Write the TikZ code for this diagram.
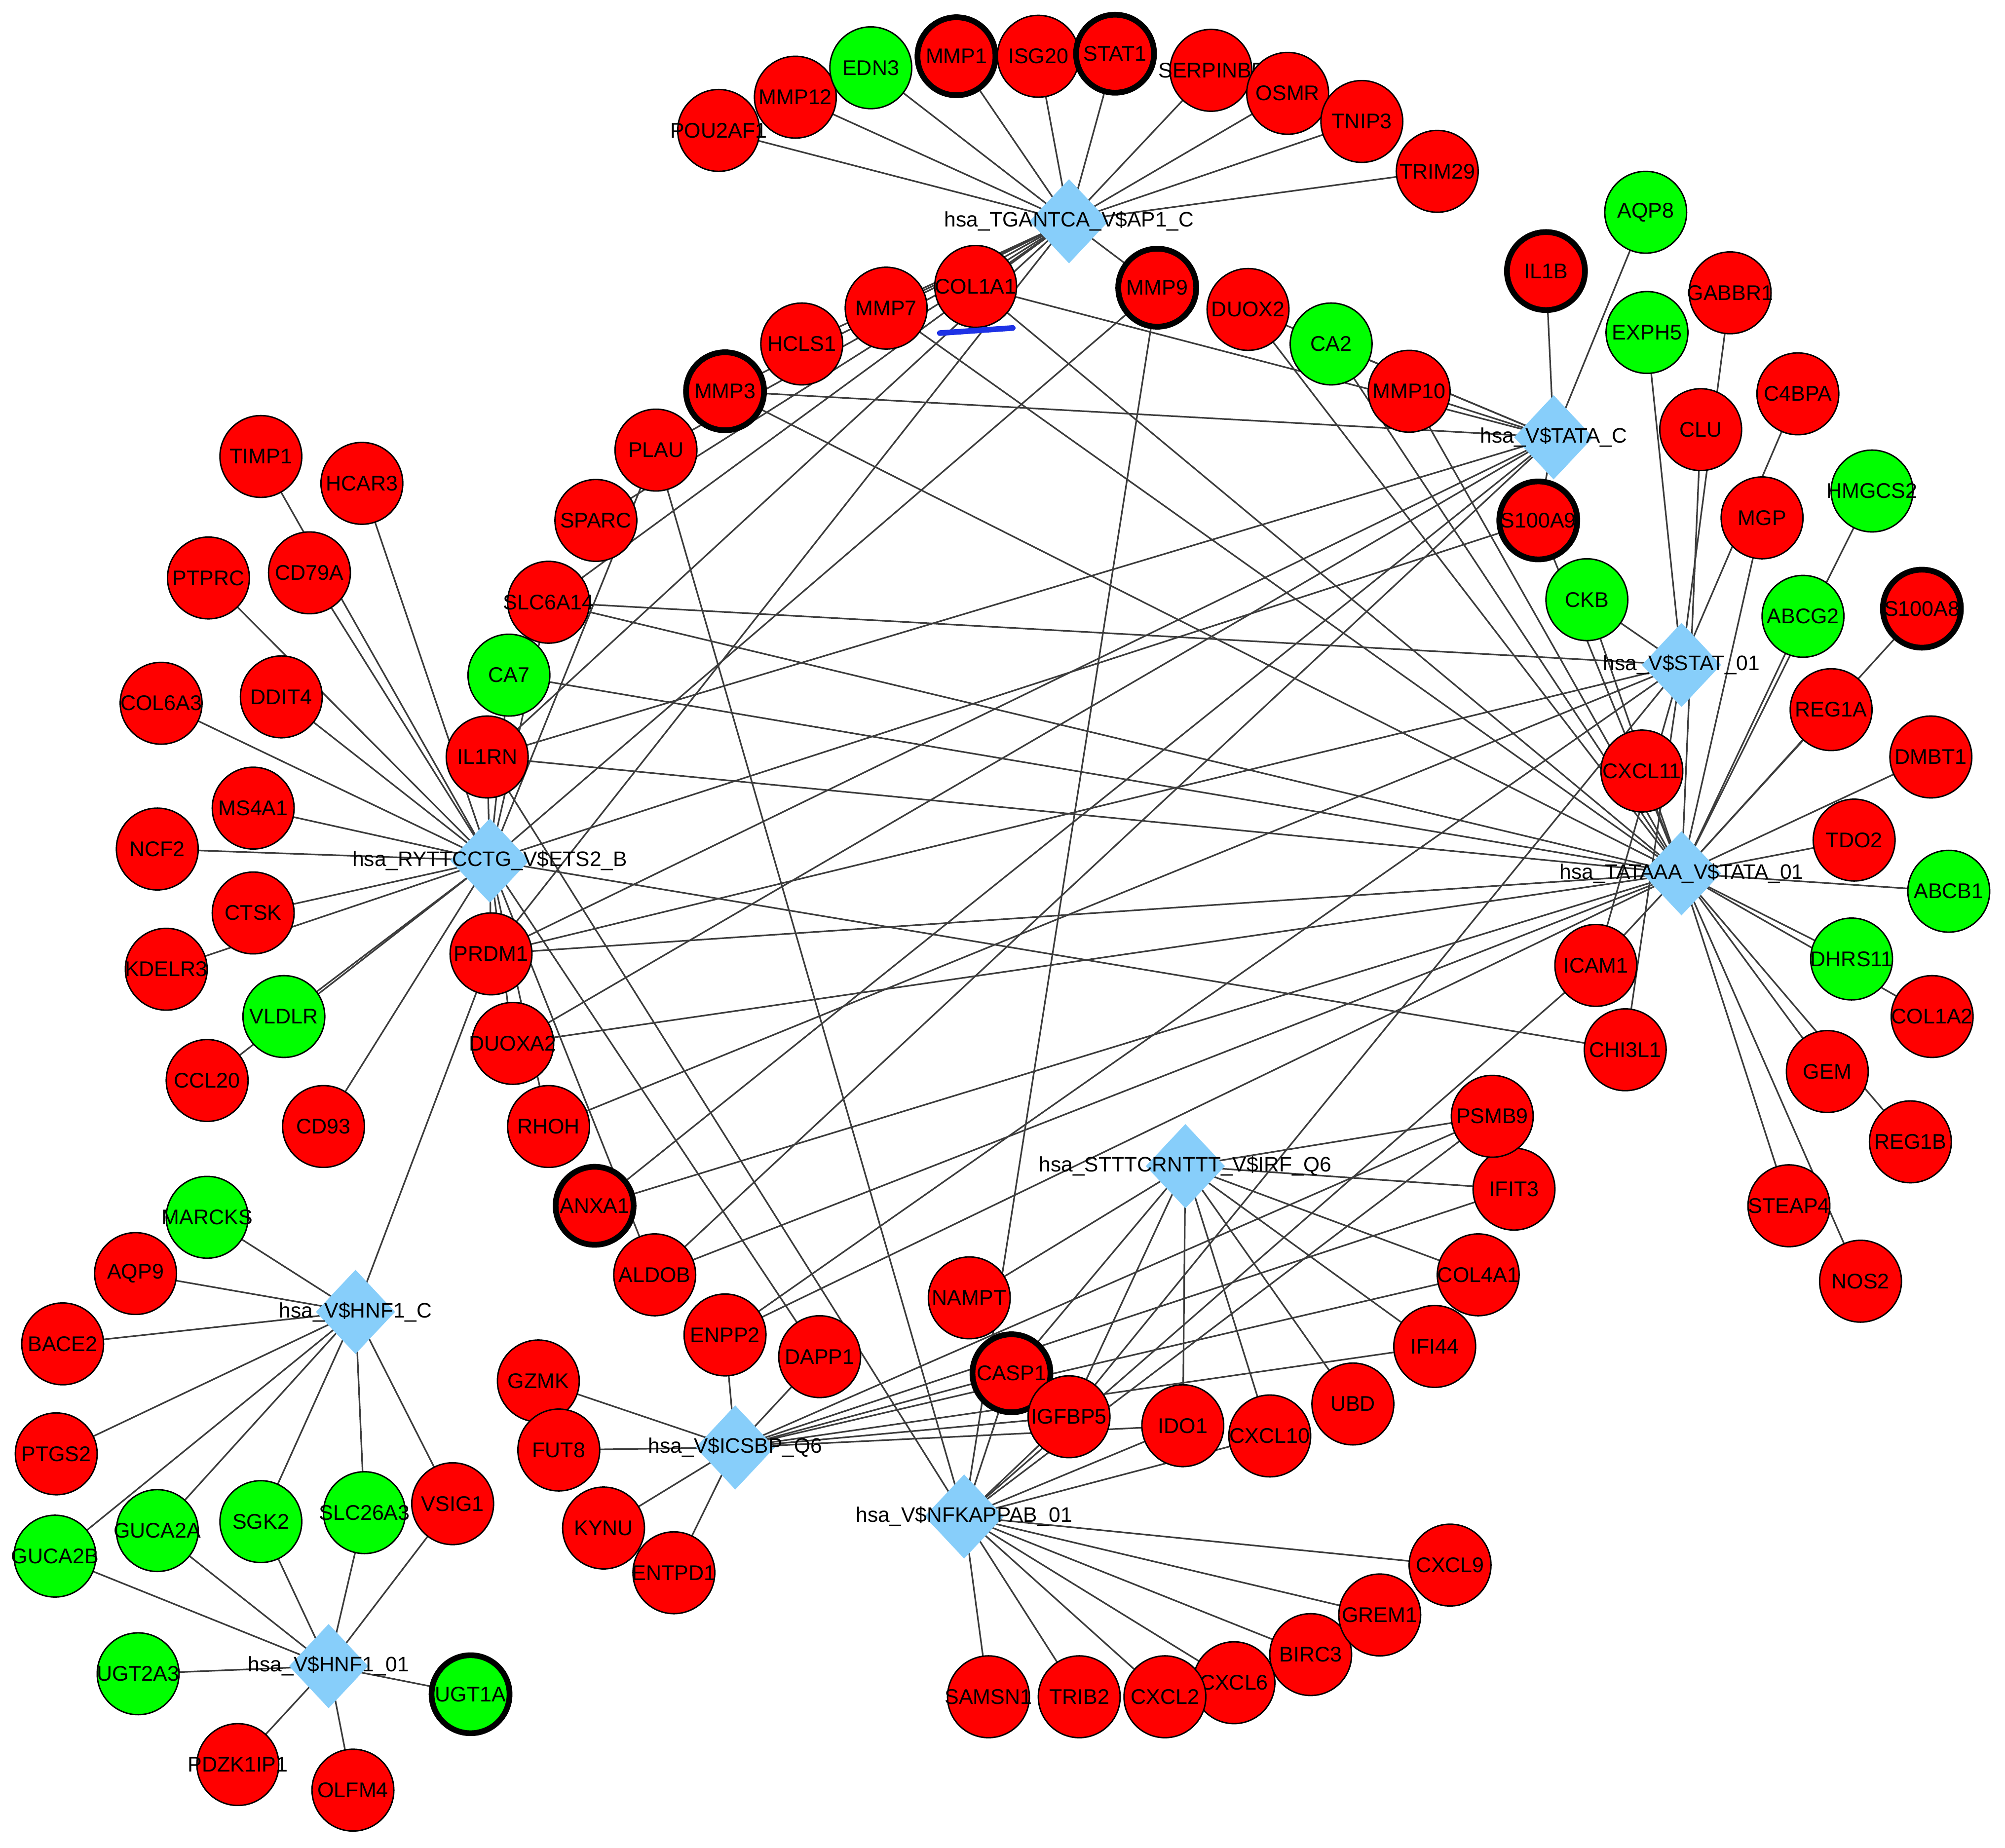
\documentclass[tikz,border=0pt]{standalone}
\usepackage{fontspec}
\setmainfont{Liberation Sans}
\usetikzlibrary{shapes.geometric}
\pgfdeclarelayer{bg}
\pgfsetlayers{bg,main}
\definecolor{gred}{RGB}{255,0,0}
\definecolor{ggreen}{RGB}{0,255,0}
\definecolor{hubblue}{RGB}{135,206,250}
\definecolor{edgegray}{RGB}{60,60,60}
\definecolor{markblue}{RGB}{30,50,230}
\begin{document}
\begin{tikzpicture}[x=1pt,y=-1pt,
 gene/.style={circle,draw=black,line width=1.1pt,minimum size=64pt,inner sep=0pt,font=\fontsize{16.6}{18}\selectfont,
   execute at begin node={\hbox to 0pt\bgroup\hss},execute at end node={\hss\egroup}},
 up/.style={gene,fill=gred},
 dn/.style={gene,fill=ggreen},
 hl/.style={line width=4.5pt,minimum size=61pt},
 hub/.style={diamond,fill=hubblue,minimum width=62pt,minimum height=66pt,inner sep=0pt},
 hublabel/.style={font=\fontsize{16.4}{18}\selectfont,inner sep=0pt},
 edge/.style={draw=edgegray,line width=1.25pt},
 marker/.style={draw=markblue,line width=4.4pt,line cap=round}
]
\useasboundingbox (0,0) rectangle (1568,1445);

% hubs
\node[hub] (ap1) at (836,173) {};
\node[hub] (tatac) at (1215,342) {};
\node[hub] (stat) at (1315,520) {};
\node[hub] (tata01) at (1315,683) {};
\node[hub] (ets2) at (383,673) {};
\node[hub] (irf) at (927,912) {};
\node[hub] (hnfc) at (278,1026) {};
\node[hub] (icsbp) at (575,1132) {};
\node[hub] (nfkb) at (754,1186) {};
\node[hub] (hnf01) at (257,1303) {};

% top arc
\node[up] (pou2af1) at (562,102) {POU2AF1};
\node[up] (mmp12) at (622,76) {MMP12};
\node[dn] (edn3) at (681,53) {EDN3};
\node[up,hl] (mmp1) at (748,44) {MMP1};
\node[up] (isg20) at (812,44) {ISG20};
\node[up,hl] (stat1) at (872,42) {STAT1};
\node[up] (serpinb5) at (947,55) {SERPINB5};
\node[up] (osmr) at (1007,73) {OSMR};
\node[up] (tnip3) at (1065,95) {TNIP3};
\node[up] (trim29) at (1124,134) {TRIM29};

% inner ring
\node[up] (plau) at (513,352) {PLAU};
\node[up,hl] (mmp3) at (567,306) {MMP3};
\node[up] (hcls1) at (627,269) {HCLS1};
\node[up] (mmp7) at (693,241) {MMP7};
\node[up] (col1a1) at (763,224) {COL1A1};
\node[up,hl] (mmp9) at (905,225) {MMP9};
\node[up] (duox2) at (976,242) {DUOX2};
\node[dn] (ca2) at (1041,269) {CA2};
\node[up] (mmp10) at (1102,306) {MMP10};
\node[up] (sparc) at (466,407) {SPARC};
\node[up] (slc6a14) at (429,471) {SLC6A14};
\node[dn] (ca7) at (398,528) {CA7};
\node[up] (il1rn) at (381,592) {IL1RN};
\node[up] (prdm1) at (384,746) {PRDM1};
\node[up] (duoxa2) at (401,816) {DUOXA2};
\node[up] (rhoh) at (429,881) {RHOH};
\node[up,hl] (anxa1) at (465,943) {ANXA1};
\node[up] (aldob) at (512,997) {ALDOB};
\node[up] (enpp2) at (567,1044) {ENPP2};
\node[up] (dapp1) at (641,1061) {DAPP1};
\node[up] (nampt) at (758,1015) {NAMPT};
\node[up,hl] (casp1) at (791,1074) {CASP1};
\node[up] (igfbp5) at (836,1108) {IGFBP5};
\node[up] (ido1) at (925,1115) {IDO1};
\node[up] (cxcl10) at (993,1123) {CXCL10};
\node[up] (ubd) at (1058,1098) {UBD};
\node[up] (ifi44) at (1122,1053) {IFI44};
\node[up] (col4a1) at (1156,997) {COL4A1};
\node[up] (ifit3) at (1184,930) {IFIT3};
\node[up] (psmb9) at (1167,873) {PSMB9};
\node[up] (chi3l1) at (1271,821) {CHI3L1};
\node[up] (icam1) at (1248,755) {ICAM1};
\node[up] (cxcl11) at (1284,603) {CXCL11};
\node[up,hl] (s100a9) at (1203,407) {S100A9};
\node[dn] (ckb) at (1241,469) {CKB};

% right
\node[up,hl] (il1b) at (1209,212) {IL1B};
\node[dn] (aqp8) at (1287,166) {AQP8};
\node[up] (gabbr1) at (1353,229) {GABBR1};
\node[dn] (exph5) at (1288,260) {EXPH5};
\node[up] (clu) at (1330,336) {CLU};
\node[up] (c4bpa) at (1406,308) {C4BPA};
\node[dn] (hmgcs2) at (1464,384) {HMGCS2};
\node[up] (mgp) at (1378,405) {MGP};
\node[dn] (abcg2) at (1410,482) {ABCG2};
\node[up,hl] (s100a8) at (1503,476) {S100A8};
\node[up] (reg1a) at (1432,555) {REG1A};
\node[up] (dmbt1) at (1510,592) {DMBT1};
\node[up] (tdo2) at (1450,657) {TDO2};
\node[dn] (abcb1) at (1524,697) {ABCB1};
\node[dn] (dhrs11) at (1448,750) {DHRS11};
\node[up] (col1a2) at (1511,795) {COL1A2};
\node[up] (gem) at (1429,838) {GEM};
\node[up] (reg1b) at (1494,893) {REG1B};
\node[up] (steap4) at (1399,943) {STEAP4};
\node[up] (nos2) at (1455,1002) {NOS2};

% left
\node[up] (timp1) at (204,357) {TIMP1};
\node[up] (hcar3) at (283,378) {HCAR3};
\node[up] (ptprc) at (163,452) {PTPRC};
\node[up] (cd79a) at (242,448) {CD79A};
\node[up] (col6a3) at (126,550) {COL6A3};
\node[up] (ddit4) at (220,545) {DDIT4};
\node[up] (ms4a1) at (198,632) {MS4A1};
\node[up] (ncf2) at (123,664) {NCF2};
\node[up] (kdelr3) at (130,758) {KDELR3};
\node[up] (ctsk) at (198,714) {CTSK};
\node[up] (ccl20) at (162,845) {CCL20};
\node[dn] (vldlr) at (222,795) {VLDLR};
\node[up] (cd93) at (253,881) {CD93};

% bottom left
\node[dn] (marcks) at (162,952) {MARCKS};
\node[up] (aqp9) at (106,996) {AQP9};
\node[up] (bace2) at (49,1051) {BACE2};
\node[up] (ptgs2) at (44,1137) {PTGS2};
\node[dn] (guca2b) at (43,1217) {GUCA2B};
\node[dn] (guca2a) at (123,1197) {GUCA2A};
\node[dn] (sgk2) at (204,1190) {SGK2};
\node[dn] (slc26a3) at (285,1183) {SLC26A3};
\node[up] (vsig1) at (354,1176) {VSIG1};
\node[dn] (ugt2a3) at (108,1309) {UGT2A3};
\node[dn,hl] (ugt1a) at (368,1325) {UGT1A};
\node[up] (pdzk1ip1) at (186,1380) {PDZK1IP1};
\node[up] (olfm4) at (276,1400) {OLFM4};

% bottom
\node[up] (gzmk) at (421,1080) {GZMK};
\node[up] (fut8) at (437,1134) {FUT8};
\node[up] (kynu) at (472,1195) {KYNU};
\node[up] (entpd1) at (527,1230) {ENTPD1};
\node[up] (samsn1) at (773,1327) {SAMSN1};
\node[up] (trib2) at (844,1327) {TRIB2};
\node[up] (cxcl6) at (965,1316) {CXCL6};
\node[up] (cxcl2) at (911,1327) {CXCL2};
\node[up] (birc3) at (1025,1294) {BIRC3};
\node[up] (grem1) at (1079,1263) {GREM1};
\node[up] (cxcl9) at (1134,1224) {CXCL9};

\begin{pgfonlayer}{bg}
\fill[white] (0,0) rectangle (1568,1445);
\foreach \g in {pou2af1,mmp12,edn3,mmp1,isg20,stat1,serpinb5,osmr,tnip3,trim29,mmp9,col1a1,mmp7,hcls1,mmp3,plau,sparc,slc6a14,il1rn,prdm1}
  \draw[edge] (ap1.center) -- (\g.center);
\foreach \g in {il1b,aqp8,col1a1,mmp3,duox2,ca2,mmp10,s100a9,il1rn,prdm1,duoxa2,anxa1,aldob}
  \draw[edge] (tatac.center) -- (\g.center);
\foreach \g in {gabbr1,exph5,c4bpa,ckb,slc6a14,prdm1,icam1,chi3l1,enpp2,rhoh,igfbp5}
  \draw[edge] (stat.center) -- (\g.center);
\foreach \g in {clu,mgp,hmgcs2,abcg2,reg1a,s100a8,dmbt1,tdo2,abcb1,dhrs11,col1a2,gem,reg1b,steap4,nos2,cxcl11,icam1,col1a1,mmp3,mmp7,duox2,ca2,mmp10,ckb,s100a9,slc6a14,ca7,il1rn,prdm1,duoxa2,anxa1,aldob,enpp2}
  \draw[edge] (tata01.center) -- (\g.center);
\foreach \g in {timp1,hcar3,cd79a,ptprc,ddit4,col6a3,ms4a1,ncf2,ctsk,kdelr3,vldlr,ccl20,cd93,il1rn,prdm1,duoxa2,rhoh,slc6a14,ca7,plau,mmp9,s100a9,chi3l1,aldob,dapp1}
  \draw[edge] (ets2.center) -- (\g.center);
\foreach \g in {psmb9,ifit3,col4a1,ifi44,ubd,cxcl10,ido1,igfbp5,casp1,nampt}
  \draw[edge] (irf.center) -- (\g.center);
\foreach \g in {marcks,aqp9,bace2,ptgs2,guca2b,guca2a,sgk2,slc26a3,vsig1,prdm1}
  \draw[edge] (hnfc.center) -- (\g.center);
\foreach \g in {guca2b,guca2a,sgk2,slc26a3,vsig1,ugt2a3,ugt1a,pdzk1ip1,olfm4}
  \draw[edge] (hnf01.center) -- (\g.center);
\foreach \g in {gzmk,fut8,kynu,entpd1,enpp2,dapp1,ido1,igfbp5,casp1,psmb9,ifit3,col4a1,ifi44}
  \draw[edge] (icsbp.center) -- (\g.center);
\foreach \g in {samsn1,trib2,cxcl2,cxcl6,birc3,grem1,cxcl9,igfbp5,ido1,cxcl10,casp1,icam1,psmb9,il1rn,plau,mmp9}
  \draw[edge] (nfkb.center) -- (\g.center);
\end{pgfonlayer}

% hub labels
\node[hublabel] at (ap1) {hsa\_TGANTCA\_V\$AP1\_C};
\node[hublabel] at (tatac) {hsa\_V\$TATA\_C};
\node[hublabel] at (stat) {hsa\_V\$STAT\_01};
\node[hublabel] at (tata01) {hsa\_TATAAA\_V\$TATA\_01};
\node[hublabel] at (ets2) {hsa\_RYTTCCTG\_V\$ETS2\_B};
\node[hublabel] at (irf) {hsa\_STTTCRNTTT\_V\$IRF\_Q6};
\node[hublabel] at (hnfc) {hsa\_V\$HNF1\_C};
\node[hublabel] at (icsbp) {hsa\_V\$ICSBP\_Q6};
\node[hublabel] at (nfkb) {hsa\_V\$NFKAPPAB\_01};
\node[hublabel] at (hnf01) {hsa\_V\$HNF1\_01};

% blue mark
\coordinate (bm1) at (735,260.5);
\coordinate (bm2) at (792,256.5);
\draw[marker] (bm1) -- (bm2);
\end{tikzpicture}
\end{document}
